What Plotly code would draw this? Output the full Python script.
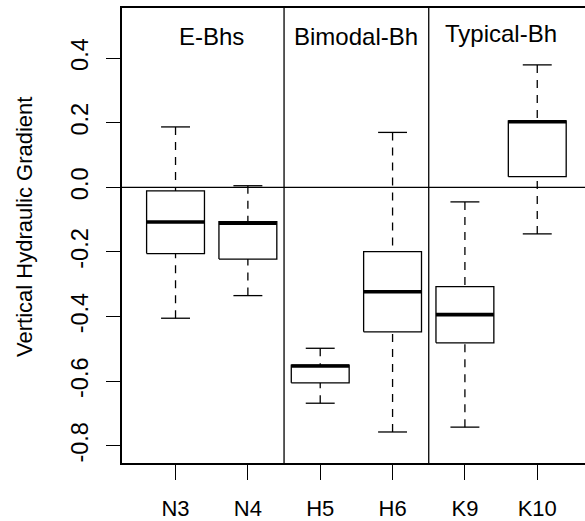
import plotly.graph_objects as go

# ---- data ----
categories = ["N3", "N4", "H5", "H6", "K9", "K10"]
lower_whisker = [-0.405, -0.335, -0.668, -0.757, -0.742, -0.144]
q1 = [-0.205, -0.222, -0.605, -0.447, -0.481, 0.033]
median = [-0.107, -0.111, -0.553, -0.323, -0.394, 0.203]
q3 = [-0.011, -0.106, -0.550, -0.199, -0.307, 0.206]
upper_whisker = [0.187, 0.005, -0.498, 0.170, -0.045, 0.379]

group_names = ["E-Bhs", "Bimodal-Bh", "Typical-Bh"]
group_sizes = [2, 2, 2]
group_label_y = [0.466, 0.468, 0.477]

y_ticks = [-0.8, -0.6, -0.4, -0.2, 0.0, 0.2, 0.4]
y_title = "Vertical Hydraulic Gradient"

# ---- styling ----
FONT = "Liberation Sans, Arial, Helvetica, sans-serif"
FS = 22
FS_Y = 23.5
FS_GROUP = 24
BOXW = 0.8
CAPW = 0.4
DASH = "8px,7px"

fig = go.Figure()
xs = list(range(1, len(categories) + 1))

for i, x in enumerate(xs):
    l, a, m, b, u = lower_whisker[i], q1[i], median[i], q3[i], upper_whisker[i]
    # whiskers (dashed), drawn from the extremes toward the box
    fig.add_trace(go.Scatter(x=[x, x], y=[l, a], mode="lines",
                             line=dict(color="black", width=1.3, dash=DASH),
                             hoverinfo="skip", showlegend=False))
    fig.add_trace(go.Scatter(x=[x, x], y=[u, b], mode="lines",
                             line=dict(color="black", width=1.3, dash=DASH),
                             hoverinfo="skip", showlegend=False))
    # caps
    for v in (l, u):
        fig.add_trace(go.Scatter(x=[x - CAPW / 2, x + CAPW / 2], y=[v, v], mode="lines",
                                 line=dict(color="black", width=1.3),
                                 hoverinfo="skip", showlegend=False))
    # box
    fig.add_trace(go.Scatter(x=[x - BOXW / 2, x + BOXW / 2, x + BOXW / 2, x - BOXW / 2, x - BOXW / 2],
                             y=[a, a, b, b, a], mode="lines",
                             line=dict(color="black", width=1.3),
                             fill="toself", fillcolor="white",
                             hoverinfo="skip", showlegend=False))
    # median
    fig.add_trace(go.Scatter(x=[x - BOXW / 2, x + BOXW / 2], y=[m, m], mode="lines",
                             line=dict(color="black", width=3.6),
                             hoverinfo="skip", showlegend=False))

# horizontal zero line
fig.add_shape(type="line", xref="paper", x0=0, x1=1, yref="y", y0=0, y1=0,
              line=dict(color="black", width=1.3))

# group separators and labels
start = 0
for k, (name, size) in enumerate(zip(group_names, group_sizes)):
    center = start + (size + 1) / 2
    fig.add_annotation(x=center, y=group_label_y[k], text=name, showarrow=False,
                       font=dict(family=FONT, size=FS_GROUP, color="black"),
                       xanchor="center", yanchor="middle")
    if k < len(group_names) - 1:
        sep = start + size + 0.5
        fig.add_shape(type="line", xref="x", x0=sep, x1=sep, yref="paper", y0=0, y1=1,
                      line=dict(color="black", width=1.3))
    start += size

# y-axis title
fig.add_annotation(xref="paper", yref="paper", x=(25 - 122) / 463, y=(463 - 227) / 455,
                   text=y_title, textangle=-90, showarrow=False,
                   font=dict(family=FONT, size=FS, color="black"),
                   xanchor="center", yanchor="middle")

fig.update_layout(
    width=585, height=521,
    margin=dict(l=122, r=0, t=8, b=58, pad=0),
    plot_bgcolor="white", paper_bgcolor="white",
    font=dict(family=FONT, size=FS, color="black"),
    showlegend=False,
)
fig.update_xaxes(range=[0.26, 6.66], tickvals=xs, ticktext=categories,
                 ticks="outside", ticklen=15, tickwidth=1.2, tickcolor="black",
                 showline=True, linecolor="black", linewidth=1.5, mirror=True,
                 showgrid=False, zeroline=False, ticklabelstandoff=10,
                 tickfont=dict(family=FONT, size=FS, color="black"))
fig.update_yaxes(range=[-0.853, 0.555], tickvals=y_ticks,
                 ticktext=[f"{v:.1f}" for v in y_ticks],
                 tickangle=-90,
                 ticks="outside", ticklen=14, tickwidth=1.2, tickcolor="black",
                 showline=True, linecolor="black", linewidth=1.5, mirror=False,
                 showgrid=False, zeroline=False, ticklabelstandoff=9,
                 tickfont=dict(family=FONT, size=FS_Y, color="black"))

fig.write_html("out.html", config={"displayModeBar": False},
               post_script="document.body.style.margin='0';document.body.style.overflow='hidden';")
